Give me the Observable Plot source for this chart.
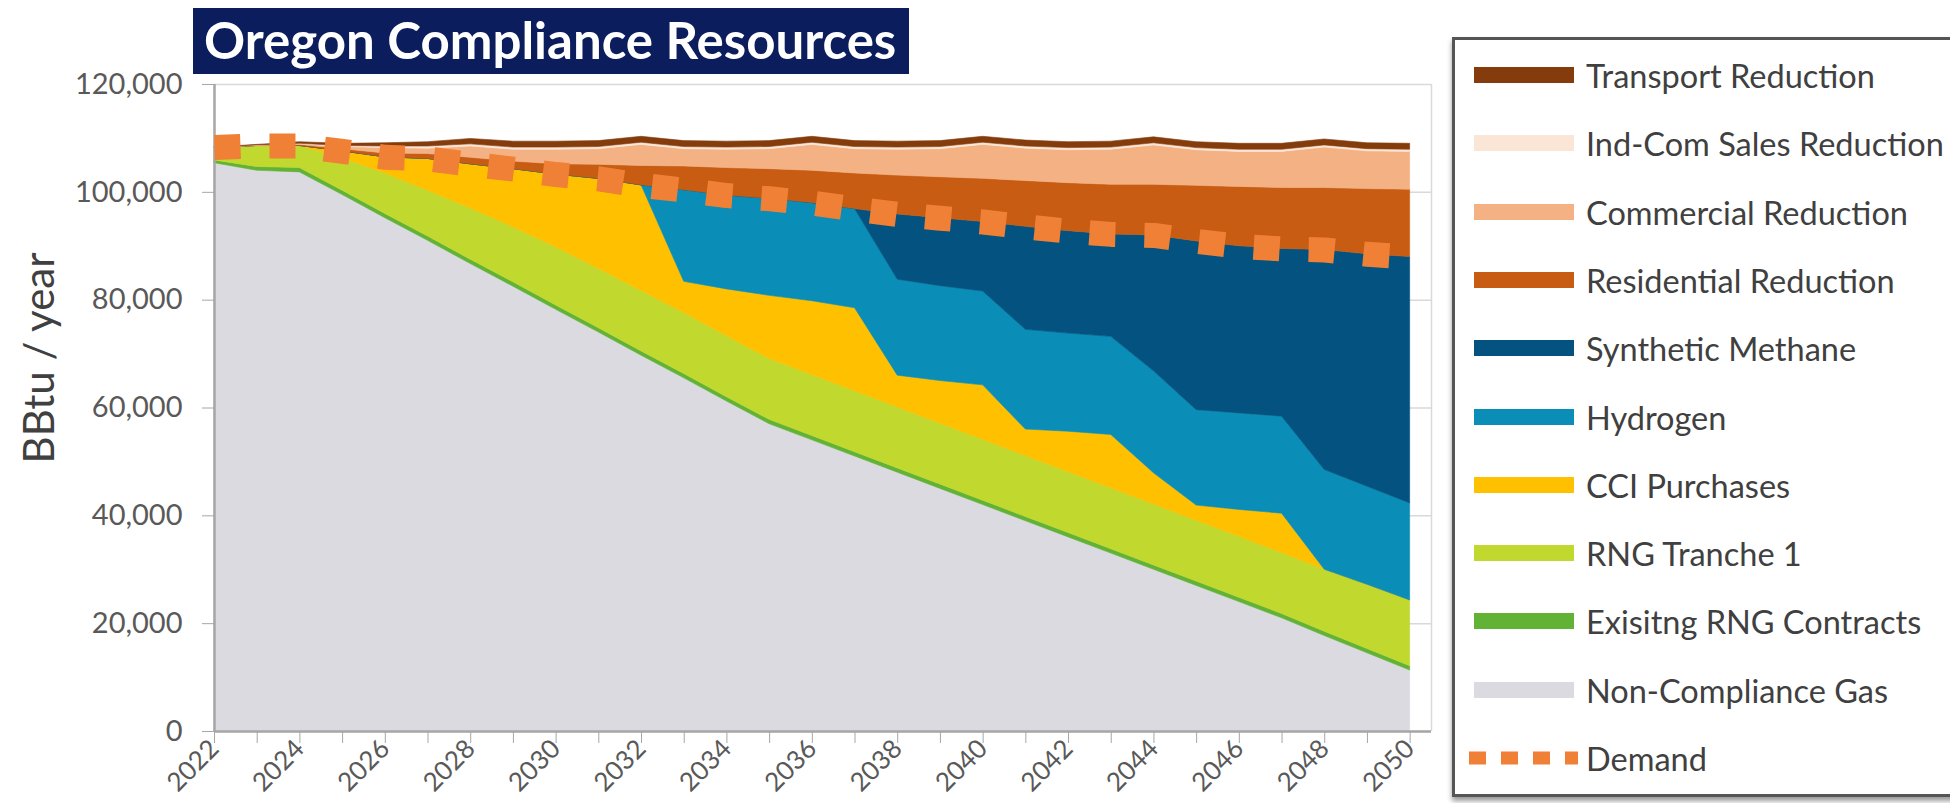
<!DOCTYPE html>
<html><head><meta charset="utf-8">
<script src="https://cdn.jsdelivr.net/npm/d3@7"></script>
<script src="https://cdn.jsdelivr.net/npm/@observablehq/plot@0.6"></script>
<style>
html,body{margin:0;padding:0;background:#fff;}
#wrap{position:relative;width:1950px;height:803px;overflow:hidden;font-family:Lato,"DejaVu Sans",sans-serif;}
#chart{position:absolute;left:0;top:0;}
#title{position:absolute;left:193px;top:8px;width:716px;height:66px;background:#0b1d5c;color:#fff;font-weight:700;font-size:51px;line-height:64px;padding-left:11px;box-sizing:border-box;white-space:nowrap;}
#ylabel{position:absolute;left:38px;top:358px;transform:translate(-50%,-50%) rotate(-90deg);font-size:42px;color:#404040;white-space:nowrap;}
#legendbox{position:absolute;left:1452px;top:37px;width:540px;height:760px;border:3.5px solid #555;box-sizing:border-box;background:#fff;box-shadow:0 4px 5px rgba(0,0,0,.4);}
.sw{position:absolute;left:1474px;width:100px;height:16px;}
.lt{position:absolute;left:1586px;font-size:32.5px;color:#404040;white-space:nowrap;transform:translateY(-50%);}
</style></head>
<body><div id="wrap">
<div id="chart"></div>
<div id="title">Oregon Compliance Resources</div>
<div id="ylabel">BBtu / year</div>
<div id="legendbox"></div>
</div>
<script>
const years = [2022,2023,2024,2025,2026,2027,2028,2029,2030,2031,2032,2033,2034,2035,2036,2037,2038,2039,2040,2041,2042,2043,2044,2045,2046,2047,2048,2049,2050];
const labeledYears = [2022,2024,2026,2028,2030,2032,2034,2036,2038,2040,2042,2044,2046,2048,2050];
const yTicks = [0,20000,40000,60000,80000,100000,120000];

const nonCompliance = [105400,104000,103700,99500,95200,91000,86700,82500,78200,74000,69700,65500,61200,57000,54000,51000,48000,45000,42000,39000,36000,33000,30000,27000,24000,21000,17700,14500,11300];
const existingRNG = [500,700,800,800,800,800,800,800,800,800,800,800,800,800,800,800,800,800,800,800,800,800,800,800,800,800,800,800,800];
const rngTranche1 = [2400,3900,4100,6000,7500,8500,9500,10200,10800,11000,11200,11300,11300,11300,11300,11300,11300,11300,11300,11300,11300,11300,11300,11300,11300,11300,11500,11900,12200];
const cciPurchases = [0,0,0,1300,3000,5900,8200,10800,13500,16700,19600,5800,8700,11700,13700,15400,5900,7900,10100,4900,7500,9900,5800,2800,5000,7300,0,0,0];
const hydrogen = [0,0,0,0,0,0,0,0,0,0,0,17000,17400,18000,18200,18400,17800,17600,17400,18500,18200,18200,18900,17700,17900,18000,18500,18200,18000];
const syntheticMethane = [0,0,0,0,0,0,0,0,0,0,0,0,0,0,0,0,12100,12600,12900,19100,19000,19000,25200,31300,31000,31100,40800,43100,45700];
const residentialReduction = [0,0,200,400,700,900,1200,1400,1900,2600,3600,4400,5100,5500,6000,6600,7200,7600,8000,8500,8900,9200,9400,10300,11000,11300,11500,12100,12500];
const commercialReduction = [0,100,100,400,1000,1000,2100,2200,2700,2900,3900,3200,3400,3700,4800,4500,4800,5200,6300,6000,6100,6500,7300,6600,6500,6700,7500,7000,7000];
const indComReduction = [0,0,100,200,300,400,400,400,400,400,400,400,400,400,400,400,400,400,400,400,400,400,400,400,400,400,400,400,400];
const transportReduction = [0,100,300,400,600,800,1000,1100,1100,1100,1100,1100,1100,1100,1100,1100,1100,1100,1100,1100,1100,1100,1100,1100,1100,1100,1100,1100,1100];
const demand = [108300,108600,108600,107600,106500,106200,105200,104300,103300,102500,101300,100400,99400,98800,98000,96900,95900,95200,94500,93600,92800,92200,92000,90900,90000,89500,89300,88500,88000];

const stackOrder = ["Non-Compliance Gas","Exisitng RNG Contracts","RNG Tranche 1","CCI Purchases","Hydrogen","Synthetic Methane","Residential Reduction","Commercial Reduction","Ind-Com Sales Reduction","Transport Reduction"];
const seriesColors = ["#dbdae0","#62b236","#c1d82f","#ffc000","#0a8db6","#03527f","#c75c12","#f4b183","#fbe5d6","#843c0c"];
const seriesValues = [nonCompliance,existingRNG,rngTranche1,cciPurchases,hydrogen,syntheticMethane,residentialReduction,commercialReduction,indComReduction,transportReduction];
const legendOrder = ["Transport Reduction","Ind-Com Sales Reduction","Commercial Reduction","Residential Reduction","Synthetic Methane","Hydrogen","CCI Purchases","RNG Tranche 1","Exisitng RNG Contracts","Non-Compliance Gas"];

const rows = [];
stackOrder.forEach((s, i) => years.forEach((yr, j) => rows.push({year: yr, series: s, value: seriesValues[i][j]})));
const demandRows = years.map((yr, j) => ({year: yr, value: demand[j]}));

const plot = Plot.plot({
  width: 1440,
  height: 803,
  marginLeft: 214,
  marginRight: 9,
  marginTop: 84,
  marginBottom: 72,
  style: {fontFamily: "Lato, 'DejaVu Sans', sans-serif", fontSize: "29px", color: "#595959", background: "transparent"},
  x: {type: "linear", domain: [2022, 2050.5]},
  y: {domain: [0, 120000]},
  color: {domain: stackOrder, range: seriesColors},
  marks: [
    Plot.ruleY(yTicks, {stroke: "#d9d9d9", strokeWidth: 1.5}),
    Plot.ruleX([2050.5], {stroke: "#d9d9d9", strokeWidth: 1.5}),
    Plot.areaY(rows, {x: "year", y: "value", z: "series", fill: "series", stroke: "series", strokeWidth: 0.6, order: stackOrder}),
    Plot.ruleX([2022], {stroke: "#a6a6a6", strokeWidth: 2.5}),
    Plot.ruleY([0], {stroke: "#a6a6a6", strokeWidth: 2.5}),
    Plot.axisY(yTicks, {tickFormat: d3.format(","), tickSize: 12, tickPadding: 20, stroke: "#a6a6a6", fill: "#595959", label: null}),
    Plot.axisX(years, {tickFormat: d => labeledYears.includes(d) ? String(d) : "", tickSize: 12, tickRotate: -45, tickPadding: 1, fontSize: 26, stroke: "#a6a6a6", fill: "#595959", label: null}),
    Plot.lineY(demandRows, {x: "year", y: "value", stroke: "#ef8035", strokeWidth: 25, strokeDasharray: "26,29", strokeLinecap: "butt"})
  ]
});
document.getElementById("chart").appendChild(plot);

// legend
const wrap = document.getElementById("wrap");
legendOrder.forEach((name, i) => {
  const cy = 75 + i * 68.3;
  const sw = document.createElement("div");
  sw.className = "sw";
  sw.style.top = (cy - 8) + "px";
  sw.style.background = seriesColors[stackOrder.indexOf(name)];
  wrap.appendChild(sw);
  const t = document.createElement("div");
  t.className = "lt";
  t.style.top = cy + "px";
  t.textContent = name;
  wrap.appendChild(t);
});
const dcy = 75 + 10 * 68.3;
const ns = "http://www.w3.org/2000/svg";
const dsv = document.createElementNS(ns, "svg");
dsv.setAttribute("width", 120); dsv.setAttribute("height", 20);
dsv.style.position = "absolute"; dsv.style.left = "1466px"; dsv.style.top = (dcy - 10) + "px";
const dl = document.createElementNS(ns, "line");
dl.setAttribute("x1", 3); dl.setAttribute("x2", 112); dl.setAttribute("y1", 10); dl.setAttribute("y2", 10);
dl.setAttribute("stroke", "#ef8035"); dl.setAttribute("stroke-width", 13); dl.setAttribute("stroke-dasharray", "17,15");
dsv.appendChild(dl); wrap.appendChild(dsv);
const dt = document.createElement("div");
dt.className = "lt"; dt.style.top = dcy + "px"; dt.textContent = "Demand";
wrap.appendChild(dt);
</script>
</body></html>
